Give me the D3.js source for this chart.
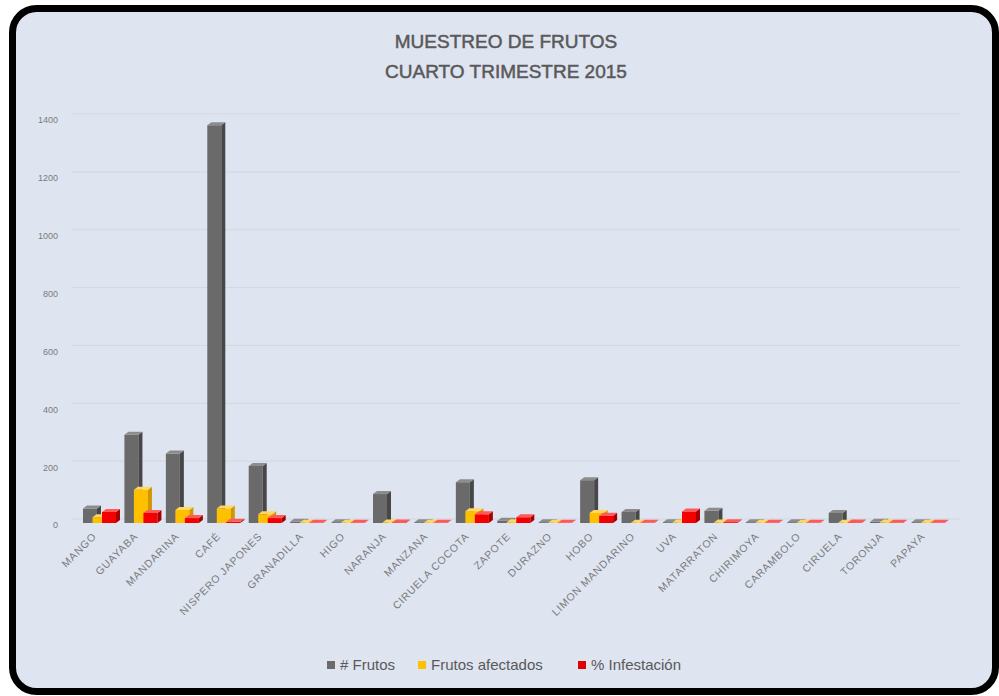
<!DOCTYPE html>
<html>
<head>
<meta charset="utf-8">
<script src="https://cdn.jsdelivr.net/npm/d3@7"></script>
<style>
  body { margin: 0; background: #fff; }
  svg { display: block; font-family: 'Liberation Sans', Arial, sans-serif; }
</style>
</head>
<body>
<div id="chart"></div>
<script>
// Data
const categories = ['MANGO', 'GUAYABA', 'MANDARINA', 'CAFÉ', 'NISPERO JAPONES', 'GRANADILLA', 'HIGO',
  'NARANJA', 'MANZANA', 'CIRUELA COCOTA', 'ZAPOTE', 'DURAZNO', 'HOBO', 'LIMON MANDARINO', 'UVA',
  'MATARRATON', 'CHIRIMOYA', 'CARAMBOLO', 'CIRUELA', 'TORONJA', 'PAPAYA']
const frutos = [50, 305, 240, 1375, 197, 4, 3, 100, 3, 141, 8, 3, 148, 38, 3, 42, 3, 3, 35, 4, 3]
const afectados = [20, 115, 45, 50, 30, 1, 1, 2, 1, 41, 3, 1, 35, 1, 2, 2, 1, 1, 1, 2, 1]
const infestacion = [38, 35, 17, 4, 17, 1, 1, 2, 1, 30, 20, 1, 25, 1, 40, 3, 1, 1, 2, 1, 1]
const seriesNames = ['# Frutos', 'Frutos afectados', '% Infestación']
const yTicks = [0, 200, 400, 600, 800, 1000, 1200, 1400]

const series = [frutos, afectados, infestacion]
const colors = [
  { front: '#6a6a6a', side: '#474747', top: '#8c8c8c', key: '#6b6b6b' },
  { front: '#ffc000', side: '#cf9800', top: '#ffd861', key: '#ffc000' },
  { front: '#f50000', side: '#a80000', top: '#ff5a5a', key: '#e00000' }
]

const w = 999
const h = 696

const svg = d3.select('#chart').append('svg')
  .attr('width', w)
  .attr('height', h)

// Frame
svg.append('rect')
  .attr('x', 12.5)
  .attr('y', 8.5)
  .attr('width', 983)
  .attr('height', 683)
  .attr('rx', 24)
  .attr('fill', '#dfe4f1')
  .attr('stroke', '#000')
  .attr('stroke-width', 7)

// Title
const title = svg.append('text')
  .attr('text-anchor', 'middle')
  .attr('fill', '#595959')
  .attr('stroke', '#595959')
  .attr('stroke-width', 0.5)
  .style('font-size', '19px')
title.append('tspan').attr('x', 506).attr('y', 48).text('MUESTREO DE FRUTOS')
title.append('tspan').attr('x', 506).attr('y', 78).text('CUARTO TRIMESTRE 2015')

// Scales
const xScale = d3.scaleBand()
  .domain(categories)
  .range([70, 940])
const sScale = d3.scalePoint()
  .domain(seriesNames)
  .range([13, 32])
const yScale = d3.scaleLinear()
  .domain([0, 1400])
  .range([523, 118])

// Grid on the back wall
svg.append('g')
  .selectAll('line')
  .data(yTicks)
  .enter()
  .append('line')
  .attr('x1', 72)
  .attr('x2', 960)
  .attr('y1', d => yScale(d) - 4)
  .attr('y2', d => yScale(d) - 4)
  .attr('stroke', '#d2d7e3')
  .attr('stroke-width', 1)

// Y axis
const yAxis = d3.axisLeft(yScale)
  .tickValues(yTicks)
  .tickFormat(d3.format('d'))
  .tickSize(0)
  .tickPadding(0)
svg.append('g')
  .attr('transform', 'translate(58, 2)')
  .call(yAxis)
  .call(g => g.select('.domain').remove())
  .call(g => g.selectAll('text')
    .attr('fill', '#7b7b7b')
    .style('font-size', '9px')
    .style('font-family', 'Liberation Sans, Arial, sans-serif'))

// 3D bars
const depthX = 4
const depthY = 3
const frontW = 14

series.forEach((values, s) => {
  const g = svg.append('g')
  const c = colors[s]
  const bars = g.selectAll('g')
    .data(values)
    .enter()
    .append('g')

  const x0 = (d, i) => xScale(categories[i]) + sScale(seriesNames[s])

  bars.append('rect')
    .attr('x', x0)
    .attr('y', d => yScale(d))
    .attr('width', frontW)
    .attr('height', d => yScale(0) - yScale(d))
    .attr('fill', c.front)

  bars.append('path')
    .attr('fill', c.side)
    .attr('d', (d, i) => {
      const x = x0(d, i) + frontW
      const yt = yScale(d)
      const yb = yScale(0)
      return `M${x},${yt} L${x + depthX},${yt - depthY} L${x + depthX},${yb - depthY} L${x},${yb} Z`
    })

  bars.append('path')
    .attr('fill', c.top)
    .attr('d', (d, i) => {
      const x = x0(d, i)
      const yt = yScale(d)
      return `M${x},${yt} L${x + depthX},${yt - depthY} L${x + frontW + depthX},${yt - depthY} L${x + frontW},${yt} Z`
    })
})

// X labels
svg.append('g')
  .selectAll('text')
  .data(categories)
  .enter()
  .append('text')
  .attr('text-anchor', 'end')
  .attr('fill', '#7b7b7b')
  .style('font-size', '10.5px')
  .style('letter-spacing', '0.8px')
  .attr('transform', d => `translate(${xScale(d) + 27}, 537) rotate(-45)`)
  .text(d => d)

// Legend
const legendX = [327, 418, 578]
const legend = svg.append('g')
  .selectAll('g')
  .data(seriesNames)
  .enter()
  .append('g')
  .attr('transform', (d, i) => `translate(${legendX[i]}, 665)`)

legend.append('rect')
  .attr('x', 0)
  .attr('y', -4)
  .attr('width', 8)
  .attr('height', 8)
  .attr('fill', (d, i) => colors[i].key)

legend.append('text')
  .attr('x', 13)
  .attr('dy', '0.35em')
  .attr('fill', '#595959')
  .style('font-size', '15px')
  .text(d => d)
</script>
</body>
</html>
